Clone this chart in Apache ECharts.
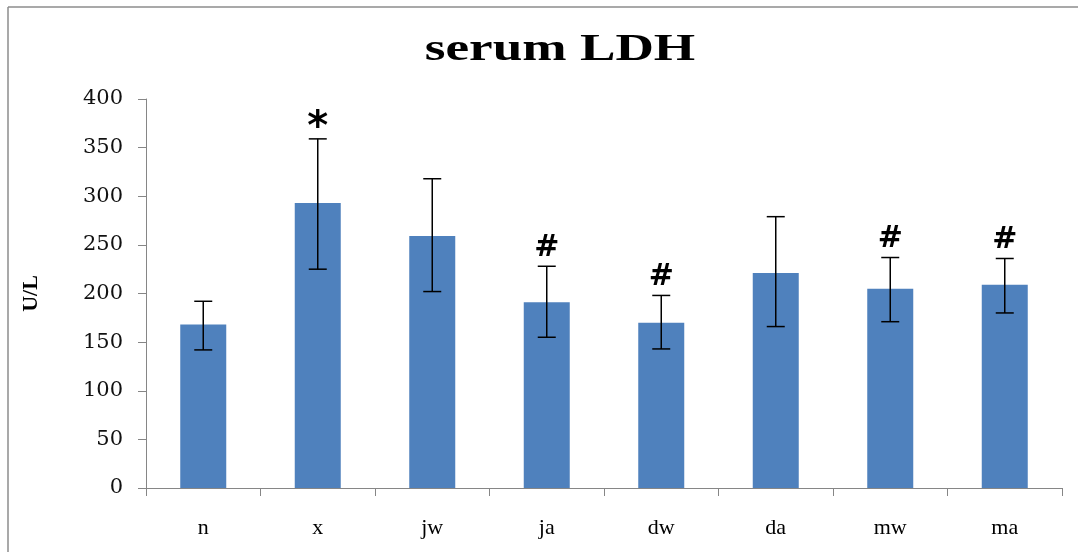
<!DOCTYPE html>
<html>
<head>
<meta charset="utf-8">
<script src="https://cdn.jsdelivr.net/npm/echarts@6/dist/echarts.min.js"></script>
<style>
  html, body { margin: 0; padding: 0; background: #fff; }
  #chart { width: 1078px; height: 552px; }
</style>
</head>
<body>
<div id="chart"></div>
<script>
// groups
var categories = ['n', 'x', 'jw', 'ja', 'dw', 'da', 'mw', 'ma'];
// mean values (U/L)
var means = [168, 293, 259, 191, 170, 221, 205, 209];
// error bar ends
var errLow  = [142, 225, 202, 155, 143, 166, 171, 180];
var errHigh = [192, 359, 318, 228, 198, 279, 237, 236];
// significance marks
var marks = ['', '*', '', '#', '#', '', '#', '#'];

var chart = echarts.init(document.getElementById('chart'));

var errData = categories.map(function (c, i) {
  return [i, errLow[i], errHigh[i], marks[i]];
});

var option = {
  animation: false,
  grid: { left: 146, right: 16, top: 99, bottom: 64 },
  graphic: [
    { type: 'line', shape: { x1: 8, y1: 7, x2: 1078, y2: 7 }, style: { stroke: '#8c8c8c', lineWidth: 1.5 } },
    { type: 'line', shape: { x1: 8, y1: 7, x2: 8, y2: 552 }, style: { stroke: '#8c8c8c', lineWidth: 1.5 } },
    {
      // title, stretched wide like the original
      type: 'text',
      x: 560,
      y: 50,
      scaleX: 1.4,
      style: {
        text: 'serum LDH',
        align: 'center',
        verticalAlign: 'middle',
        fontFamily: 'Liberation Serif',
        fontWeight: 'bold',
        fontSize: 38,
        fill: '#000'
      }
    }
  ],
  xAxis: {
    type: 'category',
    data: categories,
    axisLine: { lineStyle: { color: '#868686', width: 1 } },
    axisTick: { show: true, alignWithLabel: false, length: 8, lineStyle: { color: '#868686' } },
    axisLabel: { margin: 29, fontFamily: 'Liberation Serif', fontSize: 22, color: '#000' }
  },
  yAxis: {
    type: 'value',
    min: 0,
    max: 400,
    interval: 50,
    name: 'U/L',
    nameLocation: 'middle',
    nameGap: 104,
    nameRotate: 90,
    nameTextStyle: { fontFamily: 'Liberation Serif', fontWeight: 'bold', fontSize: 22, color: '#000' },
    axisLine: { show: true, lineStyle: { color: '#868686', width: 1 } },
    axisTick: { show: true, length: 8, lineStyle: { color: '#868686' } },
    splitLine: { show: false },
    axisLabel: { margin: 23, fontFamily: 'DejaVu Serif', fontSize: 21, color: '#111' }
  },
  series: [
    {
      type: 'bar',
      data: means,
      barWidth: 46,
      itemStyle: { color: '#4F81BD' }
    },
    {
      type: 'custom',
      data: errData,
      z: 10,
      renderItem: function (params, api) {
        var x = api.value(0);
        var lo = api.coord([x, api.value(1)]);
        var hi = api.coord([x, api.value(2)]);
        var half = 9;
        var style = { stroke: '#000', lineWidth: 1.5 };
        var children = [
          { type: 'line', shape: { x1: lo[0], y1: lo[1], x2: hi[0], y2: hi[1] }, style: style },
          { type: 'line', shape: { x1: hi[0] - half, y1: hi[1], x2: hi[0] + half, y2: hi[1] }, style: style },
          { type: 'line', shape: { x1: lo[0] - half, y1: lo[1], x2: lo[0] + half, y2: lo[1] }, style: style }
        ];
        var m = api.value(3);
        if (m) {
          children.push({
            type: 'text',
            style: {
              text: m,
              x: hi[0],
              y: hi[1] + (m === '*' ? 10 : -3),
              align: 'center',
              verticalAlign: 'bottom',
              fontFamily: 'DejaVu Sans',
              fontWeight: 'bold',
              fontSize: m === '*' ? 40 : 30,
              fill: '#000'
            }
          });
        }
        return { type: 'group', children: children };
      }
    }
  ]
};

chart.setOption(option);
</script>
</body>
</html>
